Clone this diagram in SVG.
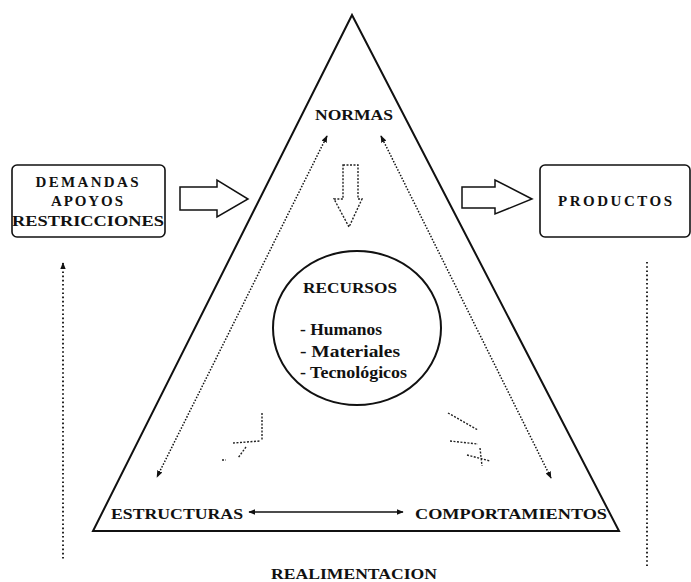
<svg xmlns="http://www.w3.org/2000/svg" width="691" height="582" viewBox="0 0 691 582">
  <style>
    .lbl { font-family: "Liberation Serif", "Times New Roman", serif; font-weight: bold; font-size: 15px; fill: #111; }
    .item { font-family: "Liberation Serif", "Times New Roman", serif; font-weight: bold; font-size: 16px; fill: #111; }
    .box { fill: #fff; stroke: #111; stroke-width: 1.6; }
    .tri { fill: none; stroke: #111; stroke-width: 2; stroke-linejoin: miter; }
    .block { fill: #fff; stroke: #111; stroke-width: 1.5; stroke-linejoin: miter; }
    .dots { fill: none; stroke: #111; stroke-width: 1.5; stroke-dasharray: 1.5 1.6; }
    .vdots { fill: none; stroke: #111; stroke-width: 1.8; stroke-dasharray: 1.6 2.6; }
    .faint { fill: none; stroke: #222; stroke-width: 1.4; stroke-dasharray: 2 1.5; }
  </style>
  <defs>
    <marker id="head" viewBox="0 0 10 10" refX="9" refY="5" markerWidth="7" markerHeight="7" orient="auto-start-reverse" markerUnits="userSpaceOnUse">
      <path d="M0,1 L10,5 L0,9 Z" fill="#111"/>
    </marker>
  </defs>

  <rect width="691" height="582" fill="#fff"/>

  <!-- main triangle -->
  <g id="triangle">
    <polygon class="tri" points="352,15 93,531 619,531"/>
  </g>

  <!-- input box -->
  <g id="demandas">
    <rect class="box" x="12" y="165" width="153" height="72" rx="5"/>
    <text class="lbl" x="87" y="187" text-anchor="middle" textLength="103" lengthAdjust="spacing">DEMANDAS</text>
    <text class="lbl" x="87" y="206" text-anchor="middle" textLength="72" lengthAdjust="spacing">APOYOS</text>
    <text class="lbl" x="88" y="226" text-anchor="middle" textLength="152" lengthAdjust="spacingAndGlyphs">RESTRICCIONES</text>
  </g>

  <!-- output box -->
  <g id="productos">
    <rect class="box" x="540" y="165" width="150" height="72" rx="5"/>
    <text class="lbl" x="615" y="206" text-anchor="middle" textLength="114" lengthAdjust="spacing">PRODUCTOS</text>
  </g>

  <!-- vertex labels -->
  <g id="normas">
    <text class="lbl" x="354" y="120" text-anchor="middle" textLength="78" lengthAdjust="spacingAndGlyphs">NORMAS</text>
  </g>
  <g id="estructuras">
    <text class="lbl" x="111" y="519" textLength="132" lengthAdjust="spacingAndGlyphs">ESTRUCTURAS</text>
  </g>
  <g id="comportamientos">
    <text class="lbl" x="415" y="519" textLength="192" lengthAdjust="spacingAndGlyphs">COMPORTAMIENTOS</text>
  </g>

  <!-- resources circle -->
  <g id="recursos">
    <ellipse cx="357" cy="328" rx="84" ry="77" fill="none" stroke="#111" stroke-width="2"/>
    <text class="lbl" x="350" y="293" text-anchor="middle" textLength="94" lengthAdjust="spacingAndGlyphs">RECURSOS</text>
    <text class="item" x="300" y="335" textLength="82" lengthAdjust="spacingAndGlyphs">- Humanos</text>
    <text class="item" x="300" y="357" textLength="100" lengthAdjust="spacingAndGlyphs">- Materiales</text>
    <text class="item" x="300" y="378" textLength="107" lengthAdjust="spacingAndGlyphs">- Tecnológicos</text>
  </g>

  <!-- feedback label -->
  <g id="realimentacion">
    <text class="lbl" x="354" y="579" text-anchor="middle" textLength="166" lengthAdjust="spacingAndGlyphs">REALIMENTACION</text>
  </g>

  <!-- connectors -->
  <g id="connectors">
    <!-- input / output block arrows -->
    <path class="block" d="M180,187 L217,187 L217,180 L248,199 L217,217 L217,210 L180,210 Z"/>
    <path class="block" d="M462,187 L495,187 L495,180 L532,199 L495,214 L495,208 L462,208 Z"/>

    <!-- dotted relations between vertices -->
    <line class="dots" x1="327" y1="136" x2="157" y2="477" marker-start="url(#head)" marker-end="url(#head)"/>
    <line class="dots" x1="381" y1="136" x2="551" y2="478" marker-start="url(#head)" marker-end="url(#head)"/>
    <line x1="249" y1="512" x2="403" y2="512" stroke="#111" stroke-width="1.5" marker-start="url(#head)" marker-end="url(#head)"/>

    <!-- feedback dotted lines -->
    <line class="vdots" x1="63" y1="263" x2="63" y2="560" marker-start="url(#head)"/>
    <line class="vdots" x1="647" y1="262" x2="647" y2="566"/>

    <!-- faded arrow under NORMAS -->
    <path class="faint" d="M343,165 L358,165 L358,199 L362,199 L349,227 L334,199 L343,199 Z"/>
    <!-- faded arrows near the base -->
    <path class="faint" d="M262,413 L262,440 M233,443 L260,441 M246,447 L238,458 M222,460 L226,460"/>
    <path class="faint" d="M448,413 L478,430 M450,441 L478,444 M467,455 L490,461 M480,448 L482,466"/>
  </g>
</svg>
